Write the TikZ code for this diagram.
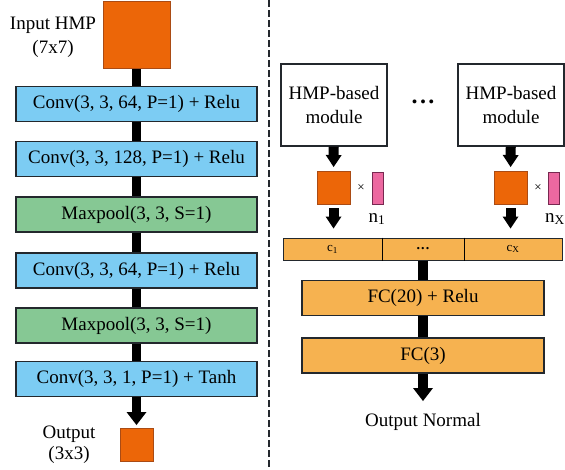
\documentclass[tikz,border=0pt]{standalone}
\usepackage{fontspec}
\setmainfont{Liberation Serif}
\usetikzlibrary{arrows.meta}

\definecolor{maporange}{RGB}{236,102,8}
\definecolor{mapedge}{RGB}{170,75,20}
\definecolor{convblue}{RGB}{124,204,243}
\definecolor{poolgreen}{RGB}{134,200,148}
\definecolor{fcorange}{RGB}{246,178,80}
\definecolor{weightpink}{RGB}{236,104,160}
\definecolor{weightedge}{RGB}{120,40,80}
\definecolor{boxline}{RGB}{35,40,45}

\begin{document}
\begin{tikzpicture}[x=1pt,y=-1pt,
  txt/.style={font=\fontsize{19}{24}\selectfont, inner sep=0pt, align=center},
  small/.style={font=\fontsize{13}{15}\selectfont, inner sep=0pt},
  layer/.style={draw=boxline, line width=1.2pt, inner sep=0pt,
    minimum width=241pt, minimum height=35pt, font=\fontsize{19}{22}\selectfont},
  conv/.style={layer, fill=convblue},
  pool/.style={layer, fill=poolgreen},
  fc/.style={layer, fill=fcorange, minimum width=242pt},
  cell/.style={draw=boxline, line width=1pt, fill=fcorange, inner sep=0pt,
    minimum height=22pt, font=\fontsize{13}{15}\selectfont},
  fmap/.style={draw=mapedge, fill=maporange, line width=1pt, inner sep=0pt},
  weight/.style={draw=weightedge, fill=weightpink, line width=1pt, inner sep=0pt,
    minimum width=11pt, minimum height=32pt},
  module/.style={draw=boxline, fill=white, line width=1.2pt, inner sep=0pt,
    minimum width=106pt, minimum height=82pt, align=center,
    font=\fontsize{19}{24}\selectfont},
  stem/.style={line width=9pt},
  bigarrow/.style={line width=9pt, -{Triangle[width=20pt,length=13pt,line width=0pt]}},
  smallarrow/.style={line width=10pt, -{Triangle[width=16pt,length=12pt,line width=0pt]}},
]
\useasboundingbox (0,0) rectangle (565,469);

% ---------------- convolutional branch ----------------
\node[fmap, minimum size=67pt] (inmap) at (136.5,35) {};
\node[txt] (inlabel) at (53,37) {Input HMP\\(7x7)};

\node[conv] (c1) at (136.5,104) {Conv(3, 3, 64, P=1) + Relu};
\node[conv] (c2) at (136.5,159) {Conv(3, 3, 128, P=1) + Relu};
\node[pool] (p1) at (136.5,214.5) {Maxpool(3, 3, S=1)};
\node[conv] (c3) at (136.5,270.5) {Conv(3, 3, 64, P=1) + Relu};
\node[pool] (p2) at (136.5,325.5) {Maxpool(3, 3, S=1)};
\node[conv] (c4) at (136.5,379) {Conv(3, 3, 1, P=1) + Tanh};

\node[fmap, minimum size=33pt] (outmap) at (136.5,445) {};
\node[txt, font=\fontsize{19}{21}\selectfont] (outlabel) at (69,444.5) {Output\\(3x3)};

\draw[stem] (inmap) -- (c1);
\draw[stem] (c1) -- (c2);
\draw[stem] (c2) -- (p1);
\draw[stem] (p1) -- (c3);
\draw[stem] (c3) -- (p2);
\draw[stem] (p2) -- (c4);
\draw[bigarrow, shorten >=3pt] (c4) -- (outmap);

% ---------------- separator ----------------
\coordinate (septop) at (269,0);
\coordinate (sepbot) at (269,469);
\draw[boxline, line width=1.1pt, dash pattern=on 7pt off 3pt] (septop) -- (sepbot);

% ---------------- fusion branch ----------------
\node[module] (m1) at (334,105) {HMP-based\\module};
\node[module] (mx) at (511,105) {HMP-based\\module};
\node[inner sep=0pt, font=\bfseries\fontsize{24}{26}\selectfont] (mdots) at (423,102)
  {.\kern2.5pt.\kern2.5pt.};

\node[fmap, minimum size=33pt] (f1) at (333.5,188) {};
\node[fmap, minimum size=33pt] (fx) at (510.5,188) {};
\node[small] (t1) at (361,188) {×};
\node[small] (tx) at (538,188) {×};
\node[weight] (w1) at (377.5,188) {};
\node[weight] (wx) at (554,188) {};
\node[txt] (n1) at (377,219) {n\textsubscript{1}};
\node[txt] (nx) at (555,219) {n\textsubscript{X}};

\node[cell, minimum width=99pt] (cA) at (332.5,249) {c\textsubscript{1}};
\node[cell, minimum width=82pt, font=\bfseries\fontsize{14}{15}\selectfont] (cB) at (423,249)
  {.\kern1.2pt.\kern1.2pt.};
\node[cell, minimum width=98pt] (cC) at (513,249) {c\textsubscript{X}};
\draw[black, line width=1.5pt] (cA.north east) -- (cA.south east);
\draw[black, line width=1.5pt] (cB.north east) -- (cB.south east);

\node[fc] (fc1) at (423,298) {FC(20) + Relu};
\node[fc] (fc2) at (423,355.5) {FC(3)};
\node[txt] (normal) at (423,422) {Output Normal};
\coordinate (normaltip) at (423,401);

\draw[smallarrow, shorten >=4pt] (m1) -- (f1);
\draw[smallarrow, shorten >=4pt] (mx) -- (fx);
\draw[smallarrow, shorten <=3pt, shorten >=9pt] (f1) -- (f1 |- cA.north);
\draw[smallarrow, shorten <=3pt, shorten >=9pt] (fx) -- (fx |- cC.north);
\draw[line width=10pt] (cB) -- (fc1);
\draw[line width=10pt] (fc1) -- (fc2);
\draw[smallarrow, -{Triangle[width=20pt,length=13pt,line width=0pt]}] (fc2) -- (normaltip);

\end{tikzpicture}
\end{document}
